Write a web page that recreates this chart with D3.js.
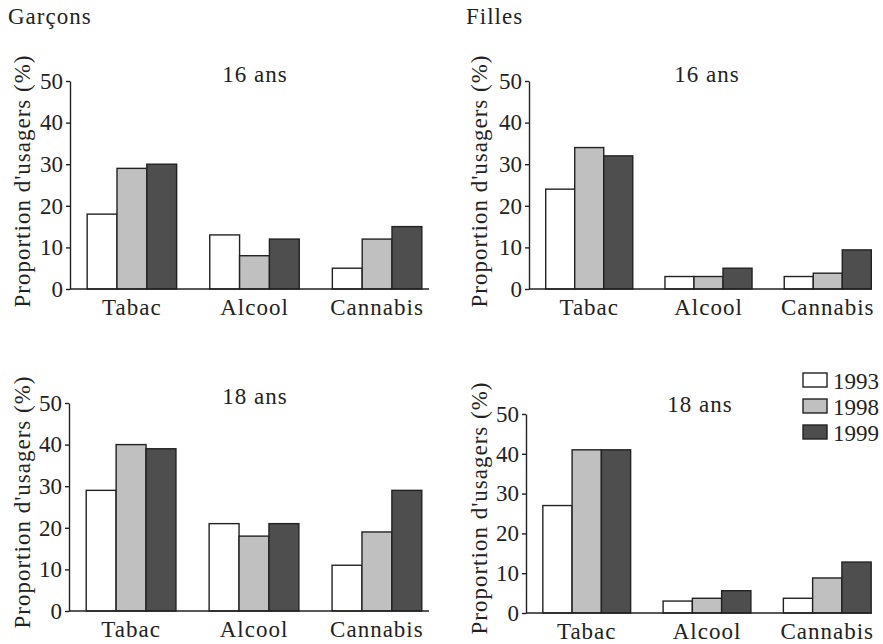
<!DOCTYPE html>
<html>
<head>
<meta charset="utf-8">
<script src="https://cdn.jsdelivr.net/npm/d3@7"></script>
<style>
  body { margin: 0; background: #fff; }
  svg { display: block; }
  text { font-family: "Liberation Serif", serif; fill: #222; }
  .cat-label { font-size: 23px; text-anchor: middle; letter-spacing: 1px; }
  .panel-title { font-size: 23px; text-anchor: middle; letter-spacing: 1px; }
  .y-label { font-size: 23px; text-anchor: middle; letter-spacing: 1px; }
  .header { font-size: 23px; letter-spacing: 1px; }
  .legend-label { font-size: 23px; }
</style>
</head>
<body>
<div class="wrapper"></div>
<script>
// data: values per category, in the order 1993, 1998, 1999
const categories = ["Tabac", "Alcool", "Cannabis"]
const years = ["1993", "1998", "1999"]
const yTicks = [0, 10, 20, 30, 40, 50]

const garcons16 = [[18, 29, 30], [13, 8, 12], [5, 12, 15]]
const filles16 = [[24, 34, 32], [3, 3, 5], [3, 3.8, 9.4]]
const garcons18 = [[29, 40, 39], [21, 18, 21], [11, 19, 29]]
const filles18 = [[27, 41, 41], [3, 3.7, 5.6], [3.7, 8.8, 12.8]]

const colors = ["#ffffff", "#c0c0c0", "#4e4e4e"]

function drawChart() {
    const width = 883
    const height = 644

    const svg = d3.select(".wrapper")
        .append("svg")
        .attr("width", width)
        .attr("height", height)

    // layout of the four panels
    const panels = [
        {data: garcons16, title: "16 ans", axisX: 70, axisEnd: 429, bandEnd: 439, y0: 289, y50: 81, titleX: 255, titleY: 82, labelX: 30, labelY: 181},
        {data: filles16, title: "16 ans", axisX: 529, axisEnd: 872, bandEnd: 888, y0: 289, y50: 81, titleX: 707, titleY: 82, labelX: 487, labelY: 181},
        {data: garcons18, title: "18 ans", axisX: 69, axisEnd: 429, bandEnd: 439, y0: 611, y50: 403, titleX: 255, titleY: 404, labelX: 30, labelY: 502},
        {data: filles18, title: "18 ans", axisX: 526, axisEnd: 872, bandEnd: 888, y0: 613, y50: 414, titleX: 700, titleY: 412, labelX: 487, labelY: 508},
    ]

    panels.forEach(p => {
        const g = svg.append("g")

        const xScale = d3.scaleBand()
            .domain(categories)
            .range([p.axisX, p.bandEnd])
            .paddingInner(0.27)
            .paddingOuter(0.14)

        const xInner = d3.scaleBand()
            .domain(years)
            .range([0, xScale.bandwidth()])

        const yScale = d3.scaleLinear()
            .domain([0, 50])
            .range([p.y0, p.y50])

        const groups = g.selectAll(".group")
            .data(categories)
            .enter().append("g")
            .attr("class", "group")
            .attr("transform", d => `translate(${xScale(d)}, 0)`)

        groups.selectAll("rect")
            .data((d, i) => p.data[i].map((v, j) => ({year: years[j], value: v, color: colors[j]})))
            .enter().append("rect")
            .attr("x", d => xInner(d.year))
            .attr("width", xInner.bandwidth())
            .attr("y", d => yScale(d.value))
            .attr("height", d => yScale(0) - yScale(d.value))
            .attr("fill", d => d.color)
            .attr("stroke", "#222")
            .attr("stroke-width", 1.4)

        // y axis
        const yAxis = d3.axisLeft(yScale)
            .tickValues(yTicks)
            .tickSize(4)
            .tickPadding(3)
            .tickSizeOuter(0)
        const yAxisGroup = g.append("g")
            .attr("transform", `translate(${p.axisX}, 0)`)
            .call(yAxis)
        yAxisGroup.selectAll("path, line")
            .attr("stroke", "#222")
            .attr("stroke-width", 1.4)
        yAxisGroup.selectAll("text")
            .attr("fill", "#222")
            .style("font-family", "Liberation Serif, serif")
            .style("font-size", "23px")

        // x axis baseline
        g.append("line")
            .attr("x1", p.axisX)
            .attr("x2", p.axisEnd)
            .attr("y1", yScale(0))
            .attr("y2", yScale(0))
            .attr("stroke", "#222")
            .attr("stroke-width", 1.4)

        g.selectAll(".cat-label")
            .data(categories)
            .enter().append("text")
            .attr("class", "cat-label")
            .attr("x", d => xScale(d) + xScale.bandwidth() / 2)
            .attr("y", yScale(0) + 26)
            .text(d => d)

        g.append("text")
            .attr("class", "panel-title")
            .attr("x", p.titleX)
            .attr("y", p.titleY)
            .text(p.title)

        g.append("text")
            .attr("class", "y-label")
            .attr("transform", `translate(${p.labelX}, ${p.labelY}) rotate(-90)`)
            .text("Proportion d'usagers (%)")
    })

    svg.append("text")
        .attr("class", "header")
        .attr("x", 8)
        .attr("y", 24)
        .text("Garçons")

    svg.append("text")
        .attr("class", "header")
        .attr("x", 466)
        .attr("y", 24)
        .text("Filles")

    // legend
    const legend = svg.append("g")
        .attr("transform", "translate(803, 373)")
    const items = legend.selectAll("g")
        .data(years)
        .enter().append("g")
        .attr("transform", (d, i) => `translate(0, ${i * 26})`)
    items.append("rect")
        .attr("width", 24)
        .attr("height", 14)
        .attr("fill", (d, i) => colors[i])
        .attr("stroke", "#222")
        .attr("stroke-width", 1.4)
    items.append("text")
        .attr("class", "legend-label")
        .attr("x", 30)
        .attr("y", 16)
        .text(d => d)
}

drawChart()
</script>
</body>
</html>
